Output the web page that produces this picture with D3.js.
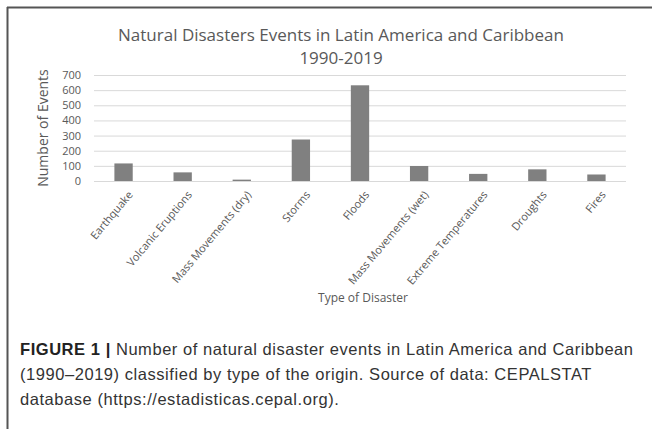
<!DOCTYPE html>
<html><head><meta charset="utf-8">
<script src="https://cdn.jsdelivr.net/npm/d3@7"></script>
<style>
html,body{margin:0;padding:0;background:#fff;}
svg{display:block;}
</style></head>
<body>
<svg id="c" width="654" height="429"></svg>
<script>
const categories = ["Earthquake","Volcanic Eruptions","Mass Movements (dry)","Storms","Floods","Mass Movements (wet)","Extreme Temperatures","Droughts","Fires"];
const values = [116, 57, 9, 274, 632, 99, 47, 77, 43];
const yTicks = [0,100,200,300,400,500,600,700];
const titleLines = ["Natural Disasters Events in Latin America and Caribbean","1990-2019"];
const yLabel = "Number of Events";
const xLabel = "Type of Disaster";
const captionBold = "FIGURE 1 |";
const captionLines = [" Number of natural disaster events in Latin America and Caribbean","(1990\u20132019) classified by type of the origin. Source of data: CEPALSTAT","database (https://estadisticas.cepal.org)."];

const svg = d3.select("#c");
const chartFont = "'Open Sans', sans-serif";
const txt = "#595959";

// frame
svg.append("line").attr("x1",7.5).attr("x2",7.5).attr("y1",7).attr("y2",429).attr("stroke","#555").attr("stroke-width",2);
svg.append("line").attr("x1",7).attr("x2",652).attr("y1",7.5).attr("y2",7.5).attr("stroke","#555").attr("stroke-width",2);

const x = d3.scaleBand().domain(categories).range([94,626]).paddingInner(0.69).paddingOuter(0.345);
const y = d3.scaleLinear().domain([0,700]).range([181,75]);

// gridlines
svg.append("g").selectAll("line").data(yTicks).join("line")
  .attr("x1",94).attr("x2",626).attr("y1",d=>y(d)+0.5).attr("y2",d=>y(d)+0.5)
  .attr("stroke","#d9d9d9").attr("stroke-width",1);

// bars
svg.append("g").selectAll("rect").data(values).join("rect")
  .attr("x",(d,i)=>x(categories[i])).attr("width",x.bandwidth())
  .attr("y",d=>y(d)).attr("height",d=>y(0)-y(d)).attr("fill","#808080");

// y axis
const ya = svg.append("g").attr("transform","translate(94,0)")
  .call(d3.axisLeft(y).tickValues(yTicks).tickSize(0).tickPadding(13));
ya.select(".domain").remove();
ya.selectAll("text").attr("font-family",chartFont).attr("font-size","11px").attr("fill",txt);

// x axis
const xa = svg.append("g").attr("transform",`translate(0,${y(0)})`)
  .call(d3.axisBottom(x).tickSize(0).tickPadding(0));
xa.select(".domain").remove();
xa.selectAll("text")
  .attr("font-family",chartFont).attr("font-size","11px").attr("fill",txt)
  .attr("text-anchor","end").attr("dy",null).attr("y",0)
  .attr("transform","translate(10,14) rotate(-50)");

// title
svg.append("g").selectAll("text").data(titleLines).join("text")
  .attr("x",341).attr("y",(d,i)=>41+i*23).attr("text-anchor","middle")
  .attr("font-family",chartFont).attr("font-size","17px").attr("fill",txt).text(d=>d);

// axis titles
svg.append("text").attr("transform","translate(48,128) rotate(-90)").attr("text-anchor","middle")
  .attr("font-family",chartFont).attr("font-size","14px").attr("fill",txt).text(yLabel);
svg.append("text").attr("x",363).attr("y",302).attr("text-anchor","middle")
  .attr("font-family",chartFont).attr("font-size","12px").attr("fill",txt).text(xLabel);

// caption
const capFont = "'Liberation Sans', Arial, sans-serif";
const l1 = svg.append("text").attr("x",20).attr("y",355).attr("font-family",capFont).attr("font-size","16.5px").attr("letter-spacing","0.55px").attr("fill","#222");
l1.append("tspan").attr("font-weight","bold").text(captionBold);
l1.append("tspan").attr("fill","#333").text(captionLines[0]);
svg.append("g").selectAll("text").data(captionLines.slice(1)).join("text")
  .attr("x",20).attr("y",(d,i)=>380+i*25).attr("font-family",capFont).attr("font-size","16.5px").attr("letter-spacing","0.55px").attr("fill","#333").text(d=>d);
</script>
</body></html>
